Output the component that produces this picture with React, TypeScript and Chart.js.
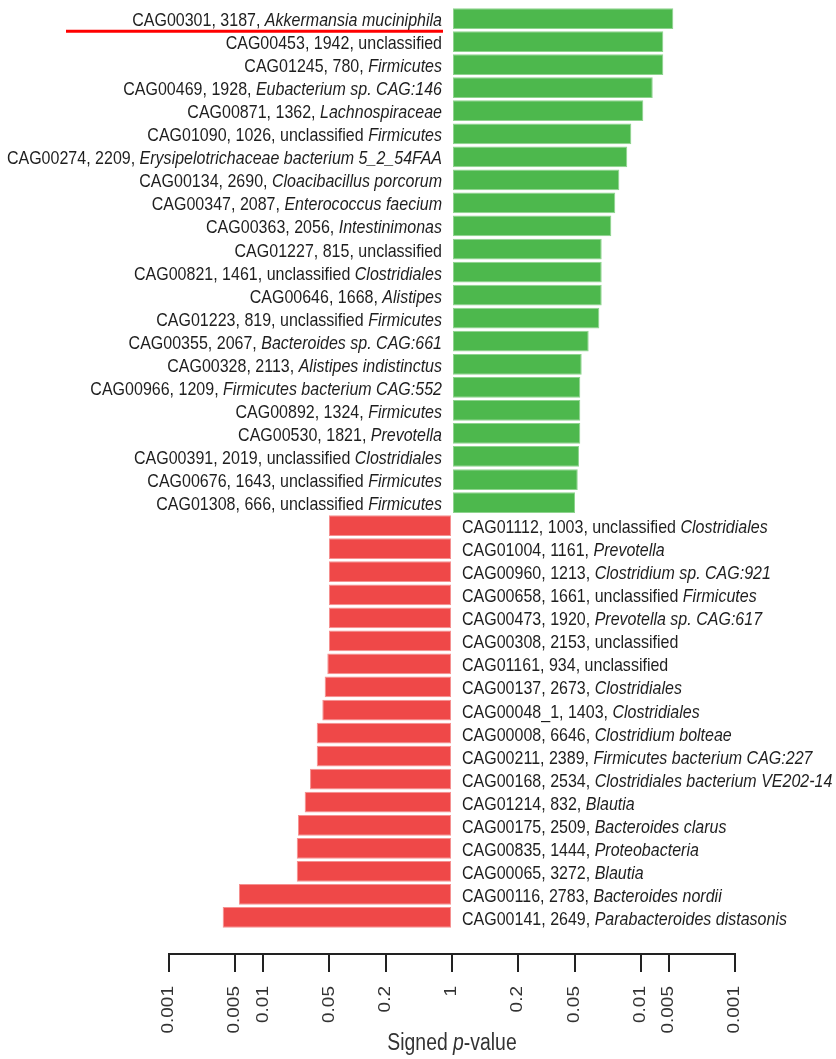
import React, { useEffect, useRef } from "react";
import { Chart, registerables } from "chart.js";

Chart.register(...registerables);

// ---- Data ----
const cagIds = [
  "CAG00301", "CAG00453", "CAG01245", "CAG00469", "CAG00871", "CAG01090", "CAG00274", "CAG00134",
  "CAG00347", "CAG00363", "CAG01227", "CAG00821", "CAG00646", "CAG01223", "CAG00355", "CAG00328",
  "CAG00966", "CAG00892", "CAG00530", "CAG00391", "CAG00676", "CAG01308",
  "CAG01112", "CAG01004", "CAG00960", "CAG00658", "CAG00473", "CAG00308", "CAG01161", "CAG00137",
  "CAG00048_1", "CAG00008", "CAG00211", "CAG00168", "CAG01214", "CAG00175", "CAG00835", "CAG00065",
  "CAG00116", "CAG00141",
];

const geneCounts = [
  3187, 1942, 780, 1928, 1362, 1026, 2209, 2690,
  2087, 2056, 815, 1461, 1668, 819, 2067, 2113,
  1209, 1324, 1821, 2019, 1643, 666,
  1003, 1161, 1213, 1661, 1920, 2153, 934, 2673,
  1403, 6646, 2389, 2534, 832, 2509, 1444, 3272,
  2783, 2649,
];

const taxonPlain = [
  "", "unclassified", "", "", "", "unclassified", "", "",
  "", "", "unclassified", "unclassified", "", "unclassified", "", "",
  "", "", "", "unclassified", "unclassified", "unclassified",
  "unclassified", "", "", "unclassified", "", "unclassified", "unclassified", "",
  "", "", "", "", "", "", "", "",
  "", "",
];

const taxonItalic = [
  "Akkermansia muciniphila", "", "Firmicutes", "Eubacterium sp. CAG:146", "Lachnospiraceae",
  "Firmicutes", "Erysipelotrichaceae bacterium 5_2_54FAA", "Cloacibacillus porcorum",
  "Enterococcus faecium", "Intestinimonas", "", "Clostridiales", "Alistipes", "Firmicutes",
  "Bacteroides sp. CAG:661", "Alistipes indistinctus",
  "Firmicutes bacterium CAG:552", "Firmicutes", "Prevotella", "Clostridiales", "Firmicutes", "Firmicutes",
  "Clostridiales", "Prevotella", "Clostridium sp. CAG:921", "Firmicutes", "Prevotella sp. CAG:617",
  "", "", "Clostridiales",
  "Clostridiales", "Clostridium bolteae", "Firmicutes bacterium CAG:227", "Clostridiales bacterium VE202-14",
  "Blautia", "Bacteroides clarus", "Proteobacteria", "Blautia",
  "Bacteroides nordii", "Parabacteroides distasonis",
];

// signed -log10(p): positive = green (right), negative = red (left)
const signedLogP = [
  2.346, 2.240, 2.240, 2.128, 2.028, 1.901, 1.858, 1.774,
  1.731, 1.689, 1.587, 1.587, 1.587, 1.562, 1.449, 1.375,
  1.360, 1.360, 1.360, 1.346, 1.333, 1.304,
  -1.304, -1.304, -1.304, -1.304, -1.304, -1.304, -1.322, -1.350,
  -1.375, -1.434, -1.434, -1.505, -1.562, -1.633, -1.646, -1.646,
  -2.258, -2.431,
];

const tickValues = [-3, -2.30103, -2, -1.30103, -0.69897, 0, 0.69897, 1.30103, 2, 2.30103, 3];
const tickLabels = ["0.001", "0.005", "0.01", "0.05", "0.2", "1", "0.2", "0.05", "0.01", "0.005", "0.001"];

const axisTitleParts = [
  { text: "Signed ", italic: false },
  { text: "p", italic: true },
  { text: "-value", italic: false },
];

// ---- Styles ----
const GREEN = "#4DB84D";
const GREEN_EDGE = "#8ED38E";
const RED = "#EF4848";
const RED_EDGE = "#F59191";
const TEXT = "#1E1E1E";
const AXIS = "#222222";
const FONT_FAMILY = '"Liberation Sans", Arial, Helvetica, sans-serif';
const SX = 0.843; // horizontal squeeze of the original picture
const AXIS_POS = 40.6; // axis placed a little below the last category

const font = (size: number, italic: boolean) => `${italic ? "italic " : ""}${size}px ${FONT_FAMILY}`;

const drawParts = (ctx: CanvasRenderingContext2D, parts: { text: string; italic: boolean }[], size: number, align: "left" | "right" | "center") => {
  const widths = parts.map((p) => {
    ctx.font = font(size, p.italic);
    return ctx.measureText(p.text).width;
  });
  const total = widths.reduce((a, b) => a + b, 0);
  let x = align === "left" ? 0 : align === "right" ? -total : -total / 2;
  ctx.textAlign = "left";
  parts.forEach((p, k) => {
    if (!p.text) return;
    ctx.font = font(size, p.italic);
    ctx.fillText(p.text, x, 0);
    x += widths[k];
  });
};

const labelPlugin = {
  id: "cagLabels",
  afterDraw(chart: any) {
    const ctx: CanvasRenderingContext2D = chart.ctx;
    const xs = chart.scales.x;
    const ys = chart.scales.y;
    const x0 = xs.getPixelForValue(0);
    const axisY = Math.round(ys.getPixelForValue(AXIS_POS));
    ctx.save();
    ctx.fillStyle = TEXT;
    ctx.textBaseline = "alphabetic";

    // bar labels
    signedLogP.forEach((v, i) => {
      const yc = ys.getPixelForValue(i);
      let plain = `${cagIds[i]}, ${geneCounts[i]}, ${taxonPlain[i]}`;
      if (taxonPlain[i] && taxonItalic[i]) plain += " ";
      const parts = [
        { text: plain, italic: false },
        { text: taxonItalic[i], italic: true },
      ];
      ctx.save();
      ctx.translate(v >= 0 ? x0 - 10 : x0 + 10, yc + 7.5);
      ctx.scale(SX, 1);
      drawParts(ctx, parts, 19, v >= 0 ? "right" : "left");
      ctx.restore();
    });

    // highlight under the first label
    const y1 = ys.getPixelForValue(0) + 12.8;
    ctx.strokeStyle = "#FF0000";
    ctx.lineWidth = 3;
    ctx.beginPath();
    ctx.moveTo(x0 - 386, y1);
    ctx.lineTo(x0 - 9, y1);
    ctx.stroke();

    // tick labels (rotated, reading upwards)
    ctx.fillStyle = "#333333";
    tickValues.forEach((tv, k) => {
      const px = xs.getPixelForValue(tv);
      ctx.save();
      ctx.translate(px, axisY + 32);
      ctx.rotate(-Math.PI / 2);
      ctx.scale(1, SX);
      ctx.font = font(19, false);
      ctx.textAlign = "right";
      ctx.textBaseline = "middle";
      ctx.fillText(tickLabels[k], 0, 0);
      ctx.restore();
    });

    // axis title
    ctx.save();
    ctx.textBaseline = "alphabetic";
    ctx.translate(x0, axisY + 96);
    ctx.scale(SX, 1);
    drawParts(ctx, axisTitleParts, 23, "center");
    ctx.restore();

    ctx.restore();
  },
};

export default function App() {
  const canvasRef = useRef<HTMLCanvasElement | null>(null);

  useEffect(() => {
    if (!canvasRef.current) return;
    const chart = new Chart(canvasRef.current, {
      type: "bar",
      data: {
        labels: cagIds,
        datasets: [
          {
            data: signedLogP,
            backgroundColor: signedLogP.map((v) => (v >= 0 ? GREEN : RED)),
            borderColor: signedLogP.map((v) => (v >= 0 ? GREEN_EDGE : RED_EDGE)),
            borderWidth: 1,
            borderSkipped: false,
            barPercentage: 0.9,
            categoryPercentage: 1,
          },
        ],
      },
      options: {
        indexAxis: "y",
        responsive: false,
        animation: false,
        devicePixelRatio: 1,
        layout: { padding: { top: 7, bottom: 130, left: 169, right: 101 } },
        plugins: {
          legend: { display: false },
          tooltip: { enabled: false },
          title: { display: false },
        },
        scales: {
          y: {
            type: "category",
            display: false,
            offset: true,
            grid: { display: false },
          },
          x: {
            type: "linear",
            min: -3,
            max: 3,
            position: { y: AXIS_POS } as any,
            afterBuildTicks: (scale: any) => {
              scale.ticks = tickValues.map((v) => ({ value: v }));
            },
            ticks: { display: false },
            grid: {
              display: true,
              drawOnChartArea: false,
              drawTicks: true,
              tickLength: 17,
              color: AXIS,
              tickColor: AXIS,
              lineWidth: 2,
            },
            border: { display: true, color: AXIS, width: 2 },
          },
        },
      },
      plugins: [labelPlugin],
    });
    return () => chart.destroy();
  }, []);

  return (
    <div style={{ position: "fixed", left: 0, top: 0, width: 836, height: 1059, background: "#fff" }}>
      <canvas ref={canvasRef} width={836} height={1059} />
    </div>
  );
}
